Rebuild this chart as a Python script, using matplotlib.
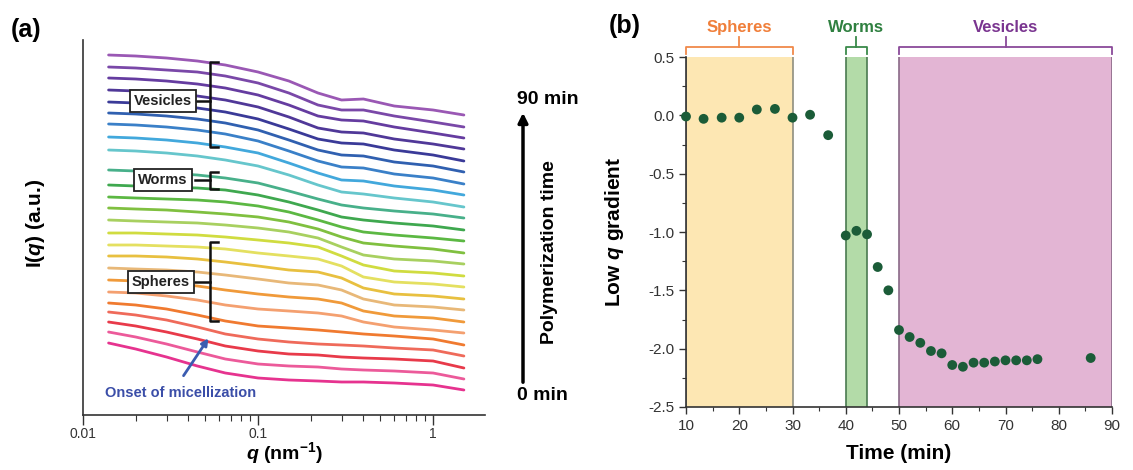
import numpy as np
import matplotlib.pyplot as plt
from matplotlib.lines import Line2D
from matplotlib.patches import FancyArrowPatch
from matplotlib.ticker import FixedLocator, MultipleLocator, FormatStrFormatter

plt.rcParams["font.family"] = ["Liberation Sans", "DejaVu Sans"]
plt.rcParams["axes.unicode_minus"] = False
plt.rcParams["mathtext.fontset"] = "custom"
plt.rcParams["mathtext.rm"] = "Liberation Sans"
plt.rcParams["mathtext.it"] = "Liberation Sans:italic"
plt.rcParams["mathtext.bf"] = "Liberation Sans:bold"
plt.rcParams["mathtext.bfit"] = "Liberation Sans:bold:italic"

W, H = 1133, 470

# ---- (a) stacked SAXS profiles, 0 min (bottom) -> 90 min (top), offset a.u.
q_points = [0.014, 0.02, 0.03, 0.045, 0.065, 0.1, 0.15, 0.22, 0.3, 0.4, 0.6, 1.0, 1.5]
curves = [
    [72, 66, 58, 49, 42, 37, 35, 34, 33, 33, 32, 30, 25],
    [83, 78, 71, 63, 56, 51, 49, 48, 46, 45, 44, 42, 36],
    [93, 89, 83, 76, 69, 64, 61, 60, 58, 57, 56, 54, 47],
    [103, 100, 95, 88, 81, 76, 73, 71, 70, 69, 67, 65, 59],
    [112, 110, 106, 100, 94, 89, 87, 85, 83, 81, 79, 76, 70],
    [123, 122, 119, 115, 110, 106, 104, 102, 99, 93, 88, 85, 82],
    [135, 134, 132, 129, 125, 121, 118, 116, 112, 104, 99, 97, 93],
    [147, 146, 145, 143, 140, 136, 132, 130, 125, 116, 110, 108, 105],
    [159, 159, 158, 156, 153, 149, 145, 143, 137, 127, 121, 119, 116],
    [170, 170, 169, 168, 166, 162, 159, 156, 149, 138, 133, 131, 128],
    [182, 182, 181, 180, 178, 175, 172, 168, 159, 150, 144, 142, 139],
    [195, 194, 193, 192, 190, 187, 183, 177, 168, 160, 156, 154, 151],
    [207, 206, 205, 203, 201, 198, 193, 186, 178, 172, 169, 166, 162],
    [218, 217, 216, 215, 213, 209, 203, 195, 188, 183, 180, 177, 174],
    [230, 229, 228, 227, 225, 220, 213, 205, 198, 195, 192, 189, 185],
    [245, 244, 242, 240, 237, 232, 224, 216, 210, 207, 204, 201, 197],
    [265, 264, 262, 259, 255, 249, 240, 230, 223, 221, 217, 213, 208],
    [278, 277, 275, 272, 268, 262, 252, 242, 235, 234, 229, 225, 220],
    [291, 290, 288, 285, 281, 274, 264, 254, 248, 247, 241, 237, 231],
    [302, 301, 299, 296, 292, 285, 275, 265, 260, 259, 253, 249, 243],
    [313, 312, 310, 307, 303, 296, 286, 276, 272, 271, 265, 260, 254],
    [325, 324, 322, 319, 315, 308, 298, 287, 283, 282, 276, 271, 266],
    [337, 336, 334, 331, 327, 320, 310, 299, 295, 294, 288, 282, 277],
    [348, 347, 345, 343, 339, 332, 322, 310, 305, 305, 299, 293, 288],
    [360, 359, 357, 354, 350, 343, 334, 322, 315, 316, 309, 305, 300],
]
curve_colors = [
    "#e6338f", "#ec5a9a", "#e83a4a", "#ef6a5a", "#f07a30",
    "#f4a070", "#f09a3a", "#e8b878", "#e8c040", "#e4e060",
    "#d0dc40", "#a8d060", "#80c040", "#5cb843", "#3fa84f",
    "#48b08a", "#66c6cc", "#42a8dc", "#3a80c8", "#3060b0",
    "#3a3a98", "#503898", "#653ca0", "#7a48a8", "#9a58b4",
]

# ---- (b) low-q gradient vs time
time_min = [10, 13.3, 16.7, 20, 23.3, 26.7, 30, 33.3, 36.7, 40, 42, 44, 46, 48, 50,
            52, 54, 56, 58, 60, 62, 64, 66, 68, 70, 72, 74, 76, 86]
low_q_gradient = [-0.01, -0.03, -0.02, -0.02, 0.05, 0.055, -0.02, 0.005, -0.17,
                  -1.03, -0.99, -1.02, -1.30, -1.50, -1.84, -1.90, -1.95, -2.02,
                  -2.04, -2.14, -2.155, -2.12, -2.12, -2.11, -2.10, -2.10, -2.10,
                  -2.09, -2.08]
phase_names = ["Spheres", "Worms", "Vesicles"]
phase_start = [10, 40, 50]
phase_end = [30, 44, 90]
phase_fill = ["#fde7b3", "#b3dba8", "#e3b5d4"]
phase_edge = ["#8f8f80", "#4a7a50", "#8a6a88"]
phase_text = ["#f07f3a", "#2f8040", "#7a3590"]
phase_bracket = ["#f0894a", "#3a8a4a", "#8a4a9a"]


def fx(px):
    return px / W


def fy(py):
    return 1 - py / H


fig = plt.figure(figsize=(W / 100, H / 100), dpi=100)

# ================= panel (a)
ax = fig.add_axes([fx(83), fy(415), (485 - 83) / W, (415 - 40) / H])
for vals, c in zip(curves, curve_colors):
    ax.plot(q_points, vals, color=c, lw=2.0, solid_capstyle="round")
ax.set_xscale("log")
ax.set_xlim(0.01, 1.98)
ax.set_ylim(0, 375)
ax.set_yticks([])
ax.xaxis.set_major_locator(FixedLocator([0.01, 0.1, 1]))
ax.set_xticklabels(["0.01", "0.1", "1"])
ax.tick_params(axis="x", which="major", direction="out", length=7, width=1.0,
               pad=2, labelsize=10, labelcolor="#333333", colors="#333333")
ax.tick_params(axis="x", which="minor", direction="out", length=4, width=0.8,
               colors="#333333")
for s in ["top", "right"]:
    ax.spines[s].set_visible(False)
for s in ["left", "bottom"]:
    ax.spines[s].set_color("#333333")
    ax.spines[s].set_linewidth(1.2)
ax.set_xlabel(r"$\mathbfit{q}$ (nm$^{\mathbf{-1}}$)", fontsize=14, fontweight="bold")
ax.xaxis.set_label_coords(0.5, -0.068)
ax.set_ylabel(r"I($\mathbfit{q}$) (a.u.)", fontsize=15, fontweight="bold")
ax.yaxis.set_label_coords(-0.09, 0.51)

# phase boxes + brackets on panel (a)
a_boxes = [("Vesicles", 163, 101, 62, 147), ("Worms", 163, 180, 172, 189),
           ("Spheres", 161, 282, 242, 321)]
for name, bx, by, top, bot in a_boxes:
    fig.text(fx(bx), fy(by), name, ha="center", va="center", fontsize=10.5,
             fontweight="bold", color="#222222",
             bbox=dict(boxstyle="square,pad=0.3", fc="white", ec="#222222", lw=1.3))
    kw = dict(color="#111111", lw=1.8, transform=fig.transFigure)
    fig.add_artist(Line2D([fx(195), fx(210)], [fy(by), fy(by)], **kw))
    fig.add_artist(Line2D([fx(218), fx(210), fx(210), fx(218)],
                          [fy(top), fy(top), fy(bot), fy(bot)], **kw))

fig.text(fx(181), fy(393), "Onset of micellization", ha="center", va="center",
         fontsize=10.5, fontweight="bold", color="#3b4ea8")
fig.add_artist(FancyArrowPatch(
    (fx(182), fy(378)), (fx(210), fy(336)), transform=fig.transFigure,
    arrowstyle="-|>", mutation_scale=10, color="#3b5cb0", lw=2))

fig.text(fx(517), fy(100), "90 min", ha="left", va="center", fontsize=14,
         fontweight="bold")
fig.text(fx(517), fy(396), "0 min", ha="left", va="center", fontsize=14,
         fontweight="bold")
fig.add_artist(FancyArrowPatch(
    (fx(523), fy(385)), (fx(523), fy(110)), transform=fig.transFigure,
    arrowstyle="-|>", mutation_scale=14, color="black", lw=2.5))
fig.text(fx(550), fy(252), "Polymerization time", ha="center", va="center",
         rotation=90, fontsize=14, fontweight="bold")

fig.text(fx(26), fy(30), "(a)", ha="center", va="center", fontsize=18,
         fontweight="bold")
fig.text(fx(625), fy(26), "(b)", ha="center", va="center", fontsize=18,
         fontweight="bold")

# ================= panel (b)
bx_ = fig.add_axes([fx(686), fy(407), (1112 - 686) / W, (407 - 57) / H])
for s, e, fc, ec in zip(phase_start, phase_end, phase_fill, phase_edge):
    bx_.axvspan(s, e, facecolor=fc, edgecolor="none", zorder=0)
    bx_.axvline(s, color=ec, lw=1.2, zorder=1)
    bx_.axvline(e, color=ec, lw=1.2, zorder=1)
bx_.scatter(time_min, low_q_gradient, s=50, color="#1b5c38", zorder=3,
            clip_on=False, edgecolors="none")
bx_.set_xlim(10, 90)
bx_.set_ylim(-2.5, 0.5)
bx_.xaxis.set_major_locator(MultipleLocator(10))
bx_.xaxis.set_minor_locator(MultipleLocator(5))
bx_.yaxis.set_major_locator(MultipleLocator(0.5))
bx_.yaxis.set_minor_locator(MultipleLocator(0.25))
bx_.yaxis.set_major_formatter(FormatStrFormatter("%.1f"))
bx_.tick_params(which="major", direction="out", length=5, width=1.0,
                labelsize=11, colors="#333333")
bx_.tick_params(which="minor", direction="out", length=3, width=0.8,
                colors="#333333")
for s in ["top", "right"]:
    bx_.spines[s].set_visible(False)
for s in ["left", "bottom"]:
    bx_.spines[s].set_color("#333333")
    bx_.spines[s].set_linewidth(1.2)
bx_.set_xlabel("Time (min)", fontsize=15, fontweight="bold")
bx_.xaxis.set_label_coords(0.5, -0.105)
bx_.set_ylabel(r"Low $\mathbfit{q}$ gradient", fontsize=15, fontweight="bold")
bx_.yaxis.set_label_coords(-0.14, 0.5)

for name, s, e, tc, bc in zip(phase_names, phase_start, phase_end, phase_text,
                              phase_bracket):
    mid = (s + e) / 2
    bx_.plot([s, s, e, e], [0.525, 0.586, 0.586, 0.525], color=bc, lw=1.3,
             clip_on=False)
    bx_.plot([mid, mid], [0.586, 0.675], color=bc, lw=1.3, clip_on=False)
    bx_.text(mid, 0.75, name, ha="center", va="center", fontsize=12,
             fontweight="bold", color=tc)

fig.savefig("out.png", dpi=100)
